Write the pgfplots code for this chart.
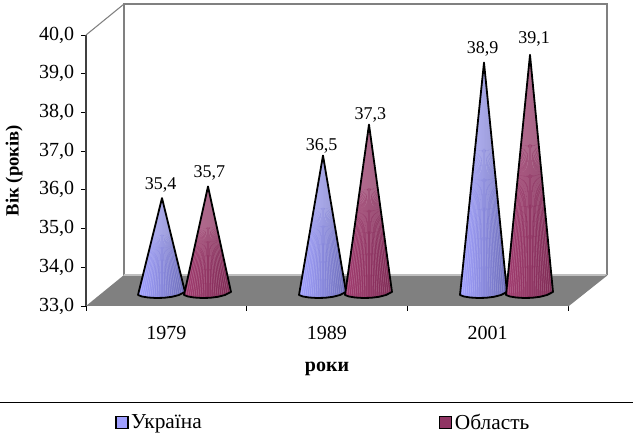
\documentclass[border=0pt]{standalone}
\usepackage{fontspec}
\setmainfont{Liberation Serif}
\usepackage{pgfplots}
\usepackage{pgfplotstable}
\pgfplotsset{compat=1.18}

\definecolor{ukrL}{HTML}{A0A0FF}
\definecolor{ukrR}{HTML}{6C6CB8}
\definecolor{oblL}{HTML}{A03A6E}
\definecolor{oblR}{HTML}{7E2A54}
\definecolor{wall}{HTML}{808080}

% cone outline: dx in px from apex, h=1 at apex, dy in px from base plane
\pgfplotstableread[row sep=\\]{
dx h dy\\
0 1 0\\
-24 0 -4\\
-20 0 -5.5\\
-14 0 -6.5\\
-6 0 -7\\
2 0 -6.8\\
10 0 -5.8\\
17 0 -4\\
23 0 -1\\
}\coneshape

% fan of thin strips on the cone surface
\pgfplotstableread[row sep=\\]{
dx h dy\\
0 1 0\\ -22 0 -4\\ 0 1 0\\ -20 0 -5\\ 0 1 0\\ -18 0 -5.5\\ 0 1 0\\ -16 0 -6\\
0 1 0\\ -14 0 -6\\ 0 1 0\\ -12 0 -6\\ 0 1 0\\ -10 0 -6.5\\ 0 1 0\\ -8 0 -6.5\\
0 1 0\\ -6 0 -6.5\\ 0 1 0\\ -4 0 -6.5\\ 0 1 0\\ -2 0 -6.5\\ 0 1 0\\ 0 0 -6.5\\
0 1 0\\ 2 0 -6.5\\ 0 1 0\\ 4 0 -6\\ 0 1 0\\ 6 0 -6\\ 0 1 0\\ 8 0 -6\\
0 1 0\\ 10 0 -5.5\\ 0 1 0\\ 12 0 -5\\ 0 1 0\\ 14 0 -4.5\\ 0 1 0\\ 16 0 -4\\
0 1 0\\ 18 0 -3\\ 0 1 0\\ 20 0 -2.5\\ 0 1 0\\ 22 0 -1.5\\
}\conefan

% #1 apex x (px), #2 value, #3 left colour, #4 right colour, #5 label shift
\newcommand\cone[5]{
  \addplot[forget plot, shade, left color=#3, right color=#4, draw=none]
    table[x expr=#1+\thisrow{dx}, y expr=33+\thisrow{h}*(#2-33)+(15+\thisrow{dy})/38.7] {\coneshape} -- cycle;
  \addplot[forget plot, white, opacity=0.26, line width=0.35pt]
    table[x expr=#1+\thisrow{dx}, y expr=33+\thisrow{h}*(#2-33)+(15+\thisrow{dy})/38.7] {\conefan};
  \addplot[forget plot, black, line width=1.35pt, line join=round]
    table[x expr=#1+\thisrow{dx}, y expr=33+\thisrow{h}*(#2-33)+(15+\thisrow{dy})/38.7] {\coneshape} -- cycle;
  \addplot[forget plot, draw=none, nodes near coords={\pgfmathprintnumber[fixed,fixed zerofill,precision=1,use comma,assume math mode=true]{\pgfplotspointmeta}},
    every node near coord/.append style={anchor=south, inner sep=0pt, yshift=15.5pt, #5, black, font=\fontsize{13.5}{16}\selectfont}, point meta=y]
    coordinates {(#1,#2)};
}

\begin{document}
\fontsize{15}{18}\selectfont
\begin{tikzpicture}
\path[use as bounding box] (-64.5pt,-96.75pt) rectangle (410.25pt,229.5pt);
\begin{axis}[
  at={(0,0)}, anchor=south west,
  scale only axis, width=361.5pt, height=203.25pt,
  xmin=0, xmax=482, ymin=33, ymax=40,
  clip=false,
  axis x line*=bottom, axis y line*=left,
  x axis line style={-, black, line width=0.75pt},
  y axis line style={-, black!75, line width=1.1pt},
  xtick={80.3,241,401.7}, xticklabels={1979,1989,2001},
  minor xtick={0,160.67,321.33,482},
  ytick={33,34,35,36,37,38,39,40},
  major x tick style={draw=none},
  minor x tick style={black, line width=0.6pt},
  y tick style={black, line width=0.6pt},
  tick align=outside,
  minor tick length=3.75pt, major tick length=3.75pt,
  x tick label style={yshift=-6.5pt},
  y tick label style={/pgf/number format/.cd, fixed, fixed zerofill, precision=1, use comma, assume math mode=true},
  xlabel={\textbf{роки}},
  ylabel={\textbf{\fontsize{14}{16}\selectfont Вік (років)}},
  xlabel style={at={(axis description cs:0.5,-0.221)}, anchor=center, yshift=-2.5pt},
  ylabel style={at={(axis description cs:-0.149,0.5)}, anchor=center},
  legend columns=2,
  legend cell align=left,
  legend style={draw=none, fill=none, font=\fontsize{16}{18}\selectfont, at={(axis description cs:0.4875,-0.424)}, anchor=center, xshift=2pt, yshift=-1.5pt,
    /tikz/every even column/.append style={column sep=176pt}},
  legend image code/.code={\draw[draw=black, line width=0.9pt] (-1pt,-4.5pt) rectangle (8pt,4.5pt);},
]
% back wall and floor
\addplot[forget plot, wall, line width=1.3pt] coordinates {(38,33.8) (38,40.8) (521,40.8) (521,33.8)};
\addplot[forget plot, wall, line width=0.8pt] coordinates {(0,40) (38,40.8)};
\addplot[forget plot, fill=wall, draw=none] coordinates {(0,33) (482,33) (521,33.8) (38,33.8)} -- cycle;
\addplot[forget plot, black!25, line width=0.8pt] coordinates {(38,33.8) (521,33.8)};
\addplot[forget plot, wall, line width=0.8pt] coordinates {(482,33) (521,33.8)};

\cone{76}{35.4}{ukrL}{ukrR}{xshift=-1pt}
\cone{122}{35.7}{oblL}{oblR}{xshift=1pt}
\cone{237}{36.5}{ukrL}{ukrR}{xshift=-1pt, yshift=-3pt}
\cone{283}{37.3}{oblL}{oblR}{xshift=1pt, yshift=-3pt}
\cone{398}{38.9}{ukrL}{ukrR}{xshift=-1pt}
\cone{444}{39.1}{oblL}{oblR}{xshift=3pt, yshift=2pt}

\addlegendimage{fill=ukrL}
\addlegendentry{Україна}
\addlegendimage{fill=oblL!90!black}
\addlegendentry{Область}
\end{axis}
\draw[black, line width=0.75pt] (-64.5pt,-72.75pt) -- (410.25pt,-72.75pt);
\end{tikzpicture}
\end{document}
